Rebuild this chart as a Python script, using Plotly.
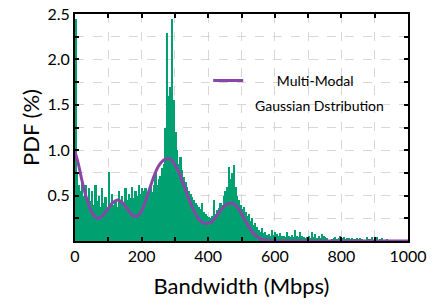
import plotly.graph_objects as go

# Histogram (5 Mbps bins), PDF in %
bin_width = 5
bin_starts = list(range(0, 1000, bin_width))
hist_pdf = [
    2.45, 0.75, 0.62, 0.55, 0.66, 0.50, 0.62, 0.47, 0.58, 0.44,
    0.55, 0.40, 0.62, 0.44, 0.50, 0.38, 0.58, 0.42, 0.48, 0.38,
    0.76, 0.42, 0.52, 0.40, 0.45, 0.38, 0.55, 0.42, 0.50, 0.42,
    0.58, 0.45, 0.52, 0.47, 0.60, 0.47, 0.55, 0.50, 0.62, 0.52,
    0.58, 0.55, 0.58, 0.52, 0.56, 0.60, 0.54, 0.62, 0.75, 0.62,
    0.68, 0.72, 0.80, 0.85, 1.25, 2.29, 1.60, 1.70, 2.45, 1.55,
    1.20, 1.00, 0.85, 0.92, 0.78, 0.70, 0.65, 0.60, 0.55, 0.52,
    0.48, 0.45, 0.42, 0.40, 0.38, 0.35, 0.42, 0.32, 0.30, 0.28,
    0.26, 0.25, 0.28, 0.45, 0.30, 0.34, 0.36, 0.42, 0.40, 0.50,
    0.55, 0.60, 0.82, 0.68, 0.75, 0.84, 0.60, 0.50, 0.45, 0.40,
    0.35, 0.38, 0.32, 0.28, 0.30, 0.22, 0.25, 0.18, 0.20, 0.15,
    0.12, 0.10, 0.14, 0.09, 0.10, 0.07, 0.08, 0.06, 0.12, 0.07,
    0.10, 0.08, 0.05, 0.09, 0.06, 0.06, 0.04, 0.10, 0.05, 0.04,
    0.07, 0.04, 0.12, 0.05, 0.04, 0.10, 0.06, 0.04, 0.03, 0.04,
    0.05, 0.03, 0.10, 0.04, 0.08, 0.03, 0.05, 0.03, 0.08, 0.06,
    0.04, 0.03, 0.00, 0.01, 0.02, 0.03, 0.04, 0.02, 0.03, 0.05,
    0.03, 0.04, 0.02, 0.03, 0.03, 0.02, 0.03, 0.02, 0.02, 0.03,
    0.02, 0.03, 0.02, 0.01, 0.01, 0.04, 0.02, 0.02, 0.04, 0.01,
    0.02, 0.04, 0.01, 0.02, 0.03, 0.00, 0.01, 0.02, 0.00, 0.00,
    0.01, 0.00, 0.00, 0.00, 0.01, 0.00, 0.00, 0.00, 0.00, 0.00,
]

# Fitted multi-modal Gaussian curve (read every 10 Mbps)
fit_x = list(range(0, 1001, 10))
fit_pdf = [
    0.98, 0.85, 0.68, 0.53, 0.41, 0.32, 0.265, 0.25, 0.27, 0.31,
    0.36, 0.41, 0.44, 0.45, 0.43, 0.39, 0.34, 0.29, 0.27, 0.28,
    0.33, 0.42, 0.53, 0.64, 0.74, 0.82, 0.87, 0.90, 0.905, 0.89,
    0.84, 0.77, 0.68, 0.58, 0.48, 0.39, 0.31, 0.25, 0.21, 0.195,
    0.195, 0.21, 0.25, 0.30, 0.35, 0.39, 0.41, 0.415, 0.40, 0.36,
    0.30, 0.23, 0.17, 0.11, 0.07, 0.04, 0.02, 0.01, 0.005, 0.002,
] + [0.0] * 41

x_tickvals = list(range(0, 1001, 100))
x_ticktext = ["0", "", "200", "", "400", "", "600", "", "800", "", "1000"]
y_tickvals = [0.25, 0.5, 0.75, 1.0, 1.25, 1.5, 1.75, 2.0, 2.25, 2.5]
y_ticktext = ["", "0.5", "", "1.0", "", "1.5", "", "2.0", "", "2.5"]

green = "rgb(0,160,112)"
purple = "rgb(138,70,166)"
font = "Lato, 'Open Sans', sans-serif"

fig = go.Figure()
fig.add_trace(go.Bar(
    x=[s + bin_width / 2 for s in bin_starts], y=hist_pdf, width=bin_width,
    marker=dict(color=green, line=dict(width=0)), showlegend=False,
))
fig.add_trace(go.Scatter(
    x=fit_x, y=fit_pdf, mode="lines", line=dict(color=purple, width=3, shape="spline"),
    name="\u00a0" * 8 + "Multi-Modal", showlegend=True,
))

fig.update_layout(
    width=442, height=308,
    margin=dict(l=75, r=34, t=14, b=67),
    paper_bgcolor="white", plot_bgcolor="white",
    bargap=0,
    font=dict(family=font, color="black"),
    legend=dict(x=0.40, y=0.705, xanchor="left", yanchor="middle",
                bgcolor="rgba(0,0,0,0)", font=dict(size=14, family=font)),
    annotations=[dict(text="Gaussian Dstribution", x=0.735, y=0.595, xref="paper", yref="paper",
                      xanchor="center", yanchor="middle",
                      showarrow=False, font=dict(size=14, family=font))],
)
fig.update_xaxes(
    range=[0, 1000], tickmode="array", tickvals=x_tickvals, ticktext=x_ticktext,
    ticks="inside", ticklen=4, tickwidth=1.5, tickcolor="black",
    showline=True, linecolor="black", linewidth=2, mirror="ticks",
    showgrid=True, gridcolor="rgb(215,215,215)", griddash="dash", gridwidth=1,
    tickfont=dict(size=16), zeroline=False, automargin=False,
    title=dict(text="Bandwidth (Mbps)", font=dict(size=22), standoff=14),
)
fig.update_yaxes(
    range=[0, 2.5], tickmode="array", tickvals=y_tickvals, ticktext=y_ticktext,
    ticks="inside", ticklen=4, tickwidth=1.5, tickcolor="black",
    showline=True, linecolor="black", linewidth=2, mirror="ticks",
    showgrid=True, gridcolor="rgb(215,215,215)", griddash="dash", gridwidth=1,
    tickfont=dict(size=16), zeroline=False, automargin=False,
    title=dict(text="PDF (%)", font=dict(size=22), standoff=2),
)

fig.write_html("out.html", config={"displayModeBar": False},
               post_script="document.body.style.margin='0';")
